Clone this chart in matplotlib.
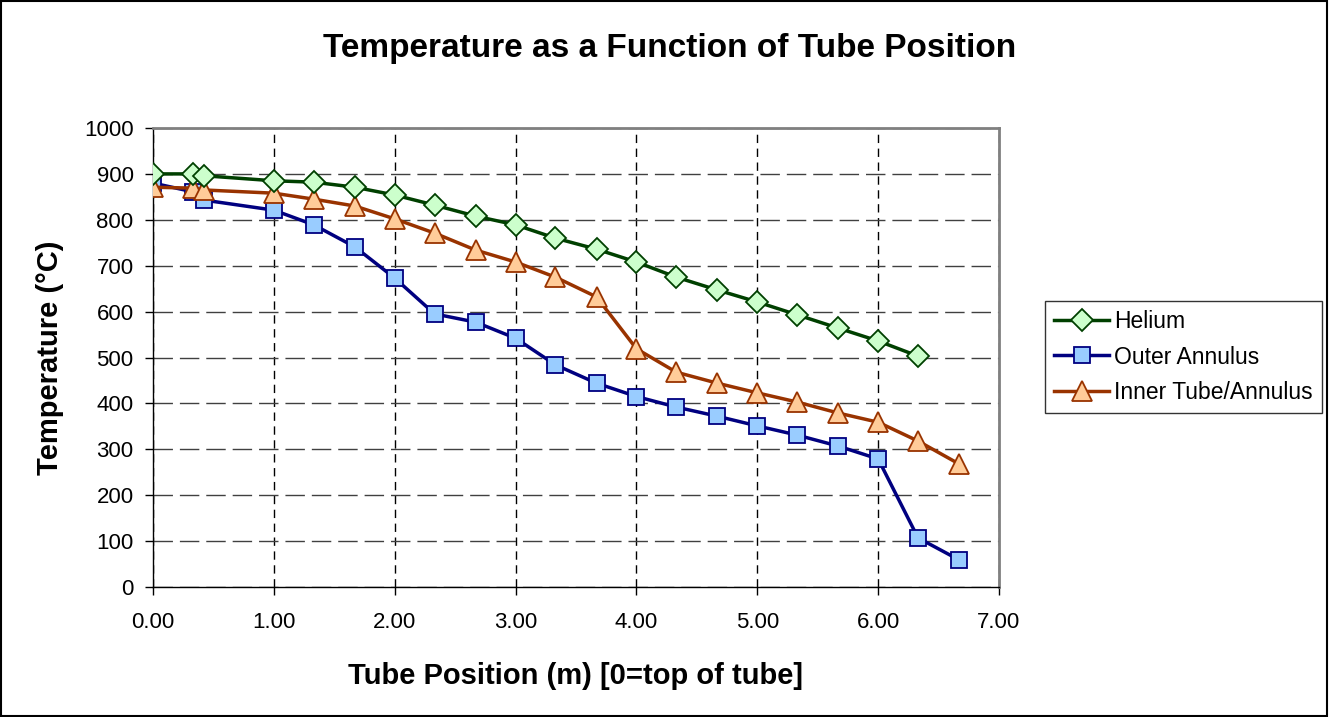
import matplotlib.pyplot as plt
from matplotlib.patches import Rectangle

# tube position (m)
pos = [0.0, 0.33, 0.42, 1.0, 1.33, 1.67, 2.0, 2.33, 2.67, 3.0, 3.33,
       3.67, 4.0, 4.33, 4.67, 5.0, 5.33, 5.67, 6.0, 6.33, 6.67]

helium = [900, 900, 896, 885, 882, 871, 854, 832, 808, 789, 760,
          736, 708, 675, 647, 621, 593, 564, 536, 503]
outer = [880, 861, 843, 821, 789, 741, 673, 595, 577, 542, 484,
         444, 415, 392, 372, 351, 331, 307, 279, 107, 59]
inner = [871, 869, 865, 858, 845, 830, 802, 771, 734, 708, 675,
         632, 519, 468, 444, 423, 403, 379, 359, 318, 268]

xticks = [0, 1, 2, 3, 4, 5, 6, 7]
yticks = list(range(0, 1001, 100))


def main():
    plt.rcParams['font.family'] = ['Liberation Sans', 'DejaVu Sans']
    fig = plt.figure(figsize=(13.3, 7.17), dpi=100)
    W, H = 1330, 717
    ax = fig.add_axes([153 / W, 1 - 587 / H, (999 - 153) / W, (587 - 128) / H])

    ax.plot(pos[:len(helium)], helium, color='#004000', lw=2.5, marker='D',
            ms=11, mfc='#CCFFCC', mec='#004000', mew=1.3, label='Helium', zorder=4)
    ax.plot(pos, outer, color='#000080', lw=2.5, marker='s',
            ms=12, mfc='#99CCFF', mec='#000080', mew=1.3, label='Outer Annulus', zorder=3)
    ax.plot(pos, inner, color='#993300', lw=2.5, marker='^',
            ms=14, mfc='#FFCC99', mec='#993300', mew=1.3, label='Inner Tube/Annulus', zorder=3)

    ax.set_xlim(0, 7)
    ax.set_ylim(0, 1000)
    ax.set_xticks(xticks)
    ax.set_xticklabels(['%.2f' % t for t in xticks], fontsize=16)
    ax.set_yticks(yticks)
    ax.set_yticklabels([str(t) for t in yticks], fontsize=16)
    ax.tick_params(direction='out', length=6, width=1, color='black')
    ax.tick_params(axis='x', pad=12)
    ax.tick_params(axis='y', pad=8)

    ax.yaxis.grid(True, color='#404040', lw=1, linestyle=(0, (14, 5)))
    ax.xaxis.grid(True, color='black', lw=1, linestyle=(0, (6, 4)))
    ax.set_axisbelow(True)

    for s in ['top', 'right']:
        ax.spines[s].set_color('#808080')
        ax.spines[s].set_linewidth(2)
    for s in ['left', 'bottom']:
        ax.spines[s].set_color('black')
        ax.spines[s].set_linewidth(1)

    ax.set_xlabel('Tube Position (m) [0=top of tube]', fontsize=21, fontweight='bold', labelpad=21)
    ax.set_ylabel('Temperature (°C)', fontsize=21, fontweight='bold', labelpad=14)
    fig.text(670 / W, 1 - 48 / H, 'Temperature as a Function of Tube Position',
             ha='center', va='center', fontsize=24, fontweight='bold')

    leg = ax.legend(loc='center left', bbox_to_anchor=(1045 / W, 1 - 357 / H),
                    bbox_transform=fig.transFigure, fontsize=16.5, frameon=True,
                    fancybox=False, edgecolor='black', borderpad=0.4,
                    handlelength=2.4, handletextpad=0.2, labelspacing=0.55,
                    borderaxespad=0)
    leg.get_frame().set_linewidth(1)

    fig.patches.append(Rectangle((0.001, 0.001), 0.997, 0.997, transform=fig.transFigure,
                                 fill=False, edgecolor='black', lw=1.5))

    plt.savefig('out.png', dpi=100)


if __name__ == '__main__':
    main()
